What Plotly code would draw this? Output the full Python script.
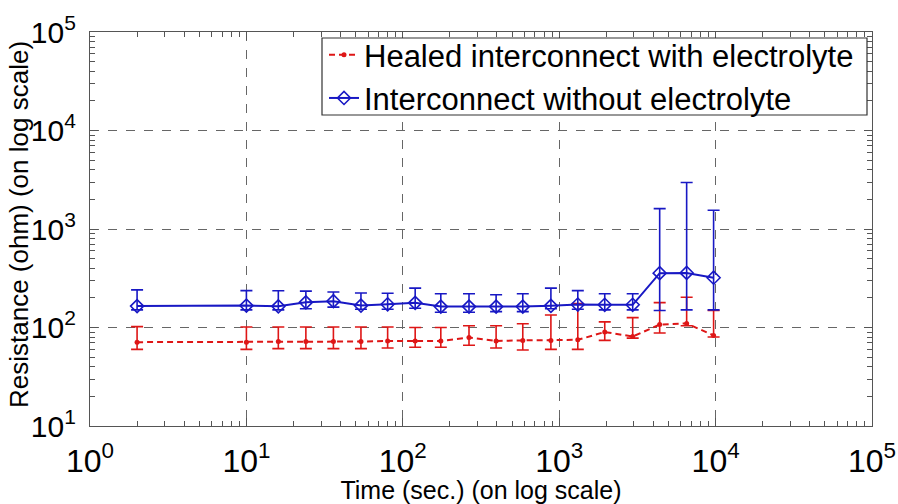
import plotly.graph_objects as go

# Elapsed time (s)
time_s = [2, 10, 16, 24, 36, 54, 80, 120, 175, 265, 395, 585, 885, 1315, 1955, 2950, 4390, 6530, 9710]

# Healed interconnect with electrolyte: mean, upper and lower bounds (ohm)
healed_mean = [71, 71, 72, 72, 72, 72, 73, 73, 73, 79, 73, 74, 74, 75, 90, 81, 107, 110, 83]
healed_upper = [102, 101, 101, 101, 101, 101, 101, 100, 100, 104, 104, 109, 134, 175, 114, 126, 179, 203, 149]
healed_lower = [60, 60, 61, 61, 61, 61, 62, 63, 63, 66, 62, 59, 60, 60, 74, 78, 88, 104, 80]

# Interconnect without electrolyte: mean, upper and lower bounds (ohm)
plain_mean = [165, 167, 164, 180, 185, 167, 172, 178, 163, 163, 163, 163, 166, 171, 170, 170, 356, 358, 320]
plain_upper = [241, 237, 236, 234, 229, 224, 223, 251, 220, 220, 215, 220, 251, 237, 220, 220, 1610, 2970, 1550]
plain_lower = [151, 151, 151, 155, 161, 153, 153, 157, 143, 143, 145, 145, 155, 153, 151, 151, 149, 151, 151]

x_ticks = [1, 10, 100, 1000, 10000, 100000]
x_labels = ["10<sup>0</sup>", "10<sup>1</sup>", "10<sup>2</sup>", "10<sup>3</sup>", "10<sup>4</sup>", "10<sup>5</sup>"]
y_ticks = [10, 100, 1000, 10000, 100000]
y_labels = ["10<sup>1</sup>", "10<sup>2</sup>", "10<sup>3</sup>", "10<sup>4</sup>", "10<sup>5</sup>"]

RED = "rgb(222,22,22)"
BLUE = "rgb(24,24,196)"
FONT = "Liberation Sans, Arial, sans-serif"

W, H = 898, 504
L, R, T, B = 90, 26, 32, 78
PW, PH = W - L - R, H - T - B


def px_x(p):
    return (p - L) / PW


def px_y(p):
    return (H - B - p) / PH


def err(mean, upper, lower, color):
    return dict(
        type="data",
        symmetric=False,
        array=[u - m for u, m in zip(upper, mean)],
        arrayminus=[m - l for m, l in zip(mean, lower)],
        color=color,
        thickness=1.6,
        width=6,
    )


fig = go.Figure()
fig.add_trace(go.Scatter(
    x=time_s, y=healed_mean, mode="lines+markers",
    name="Healed interconnect with electrolyte",
    line=dict(color=RED, width=2, dash="6px,4px"),
    marker=dict(symbol="circle", size=5, color=RED),
    error_y=err(healed_mean, healed_upper, healed_lower, RED),
))
fig.add_trace(go.Scatter(
    x=time_s, y=plain_mean, mode="lines+markers",
    name="Interconnect without electrolyte",
    line=dict(color=BLUE, width=2),
    marker=dict(symbol="diamond-open", size=10, color=BLUE, line=dict(width=1.6, color=BLUE)),
    error_y=err(plain_mean, plain_upper, plain_lower, BLUE),
))

axis_common = dict(
    type="log",
    showline=True, linecolor="#555", linewidth=1.2, mirror="ticks",
    ticks="inside", ticklen=8, tickcolor="#555", tickwidth=1,
    showgrid=True, gridcolor="#666", griddash="dash", gridwidth=1,
    minor=dict(ticks="inside", ticklen=5, tickcolor="#555", showgrid=False, dtick="D1"),
    zeroline=False,
)

fig.update_xaxes(
    **axis_common, range=[0, 5], tickmode="array", tickvals=x_ticks, ticktext=x_labels,
    ticklabelstandoff=6,
    tickfont=dict(family=FONT, size=32, color="black"),
    title=dict(text="Time (sec.) (on log scale)", standoff=2,
               font=dict(family=FONT, size=25, color="black")),
)
fig.update_yaxes(
    **axis_common, range=[1, 5], tickmode="array", tickvals=y_ticks, ticktext=y_labels,
    ticklabelstandoff=7,
    tickfont=dict(family=FONT, size=30, color="black"),
)

# Y-axis title placed as a rotated annotation
fig.add_annotation(
    text="Resistance (ohm) (on log scale)", textangle=-90,
    xref="paper", yref="paper", x=px_x(19), y=px_y(225),
    xanchor="center", yanchor="middle", showarrow=False,
    font=dict(family=FONT, size=26, color="black"),
)

# Legend frame (white box covering the grid behind the legend)
fig.add_shape(
    type="rect", xref="paper", yref="paper",
    x0=px_x(322), x1=px_x(867), y0=px_y(115), y1=px_y(38),
    fillcolor="white", line=dict(color="#333", width=1.2), layer="above",
)

fig.update_layout(
    width=W, height=H,
    margin=dict(l=L, r=R, t=T, b=B, autoexpand=False),
    paper_bgcolor="white", plot_bgcolor="white",
    font=dict(family=FONT, color="black"),
    showlegend=True,
    legend=dict(
        x=px_x(324), y=px_y(28), xanchor="left", yanchor="top",
        bgcolor="rgba(0,0,0,0)", borderwidth=0,
        font=dict(family=FONT, size=31, color="black"),
        itemwidth=30, tracegroupgap=0,
    ),
)

fig.write_html("out.html")
